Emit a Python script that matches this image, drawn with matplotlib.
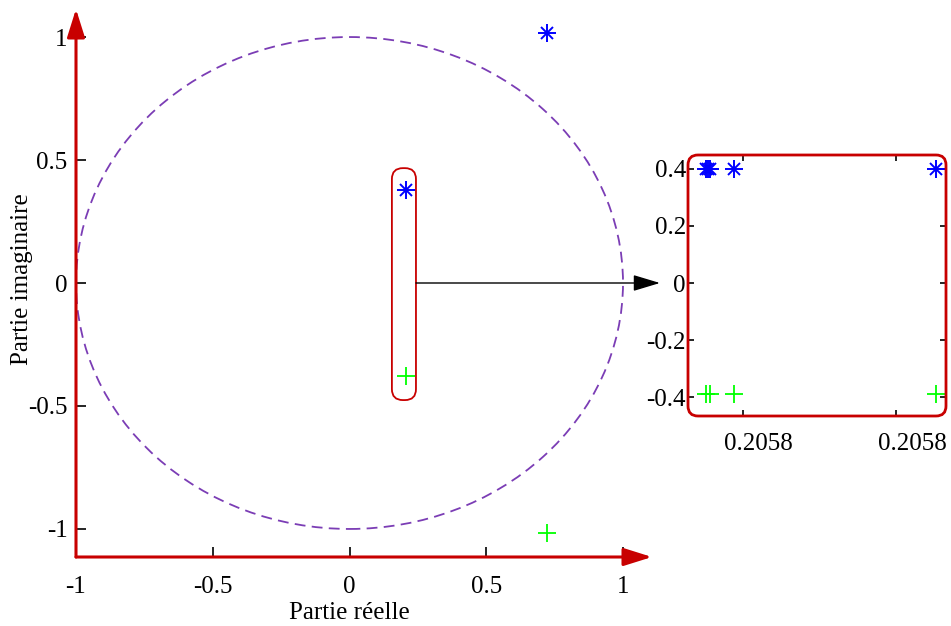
import matplotlib
matplotlib.use('Agg')
import matplotlib.pyplot as plt
from matplotlib.patches import Circle, FancyBboxPatch
from matplotlib.ticker import FormatStrFormatter
from matplotlib.transforms import ScaledTranslation

plt.rcParams['font.family'] = ['Liberation Serif', 'DejaVu Serif']
plt.rcParams['axes.unicode_minus'] = False
plt.rcParams['font.size'] = 18

RED = '#c80000'
BLUE = '#0000ff'
GREEN = '#00ff00'
PURPLE = '#7b3db5'

# ---- data (main plane) ----
pole_re = [0.722, 0.2058]
pole_im = [1.016, 0.38]
zero_re = [0.722, 0.2058]
zero_im = [-1.016, -0.38]
main_xticks = [-1, -0.5, 0, 0.5, 1]
main_yticks = [-1, -0.5, 0, 0.5, 1]
main_xticklabels = ['-1', '-0.5', '0', '0.5', '1']
main_yticklabels = ['-1', '-0.5', '0', '0.5', '1']

# ---- data (zoomed view) ----
zoom_pole_re = [0.2057952, 0.2057955, 0.2057958, 0.2057989, 0.2058252]
zoom_pole_im = [0.40, 0.40, 0.40, 0.40, 0.40]
zoom_zero_re = [0.2057952, 0.2057957, 0.2057989, 0.2058252]
zoom_zero_im = [-0.387, -0.387, -0.387, -0.387]
zoom_xticks = [0.20580, 0.20582]
zoom_yticks = [-0.4, -0.2, 0, 0.2, 0.4]
zoom_yticklabels = ['-0.4', '-0.2', '0', '0.2', '0.4']

W, H = 951, 626
fig = plt.figure(figsize=(W / 100, H / 100), dpi=100)

# ---------------- main axes ----------------
ax = fig.add_axes([76 / W, 1 - 557 / H, 576 / W, 548 / H])
ax.set_xlim(-1, 1.106)
ax.set_ylim(-1.114, 1.114)
for s in ax.spines.values():
    s.set_visible(False)

ax.set_xticks(main_xticks)
ax.set_xticklabels(main_xticklabels)
ax.set_yticks(main_yticks)
ax.set_yticklabels(main_yticklabels)
ax.tick_params(direction='in', length=7, width=1.2, colors='k', labelsize=18)
ax.tick_params(axis='x', pad=13.5)
ax.tick_params(axis='y', pad=6)

arrow_kw = dict(arrowstyle='-|>,head_length=0.86,head_width=0.27', color=RED,
                lw=2.2, shrinkA=0, shrinkB=0, mutation_scale=20)
ax.annotate('', xy=(-1, 1.114), xytext=(-1, -1.114), arrowprops=arrow_kw,
            annotation_clip=False)
ax.annotate('', xy=(1.106, -1.114), xytext=(-1, -1.114), arrowprops=arrow_kw,
            annotation_clip=False)

ax.add_patch(Circle((0, 0), 1, fill=False, ls=(0, (6, 3.5)), lw=1.3, ec=PURPLE))

ax.add_patch(FancyBboxPatch((0.155, -0.476), 0.088, 0.943,
                            boxstyle='round,pad=0,rounding_size=0.04',
                            mutation_aspect=1.112, ec=RED, fc='none', lw=1.3))
ax.annotate('', xy=(1.135, 0), xytext=(0.243, 0),
            arrowprops=dict(arrowstyle='-|>,head_length=0.83,head_width=0.25',
                            color='k', lw=1.0, shrinkA=0, shrinkB=0,
                            mutation_scale=20), annotation_clip=False)

ax.plot(pole_re, pole_im, ls='none', marker='+', ms=13, mew=1.4, color=BLUE)
ax.plot(pole_re, pole_im, ls='none', marker='x', ms=8, mew=1.4, color=BLUE)
ax.plot(zero_re, zero_im, ls='none', marker='+', ms=13, mew=1.3, color=GREEN)

fig.text(22 / W, 1 - 279 / H, 'Partie imaginaire', rotation=90,
         ha='center', va='center', fontsize=18)
fig.text(349 / W, 1 - 613 / H, 'Partie réelle', ha='center', va='center',
         fontsize=18)

# ---------------- zoom axes ----------------
axi = fig.add_axes([688 / W, 1 - 416 / H, 258 / W, 261 / H])
axi.set_xlim(0.2057929, 0.2058265)
axi.set_ylim(-0.465, 0.448)
for s in axi.spines.values():
    s.set_visible(False)
axi.set_xticks(zoom_xticks)
axi.xaxis.set_major_formatter(FormatStrFormatter('%.4f'))
axi.set_yticks(zoom_yticks)
axi.set_yticklabels(zoom_yticklabels)
axi.tick_params(direction='in', length=4, width=1.2, colors='k', labelsize=18,
                top=True, right=True)
axi.tick_params(axis='x', pad=12)
axi.tick_params(axis='y', pad=1.5)
axi.set_facecolor('none')
shift = ScaledTranslation(16 / 100, 0, fig.dpi_scale_trans)
for lab in axi.get_xticklabels():
    lab.set_transform(lab.get_transform() + shift)

axi.plot(zoom_pole_re, zoom_pole_im, ls='none', marker='+', ms=13, mew=1.4, color=BLUE)
axi.plot(zoom_pole_re, zoom_pole_im, ls='none', marker='x', ms=8, mew=1.4, color=BLUE)
axi.plot(zoom_zero_re, zoom_zero_im, ls='none', marker='+', ms=13, mew=1.3, color=GREEN)

fig.add_artist(FancyBboxPatch((688 / W, 1 - 416 / H), 258 / W, 261 / H,
                              boxstyle='round,pad=0,rounding_size=%f' % (10 / W),
                              mutation_aspect=W / H, transform=fig.transFigure,
                              ec=RED, fc='none', lw=2.0))

fig.savefig('out.png', dpi=100)
